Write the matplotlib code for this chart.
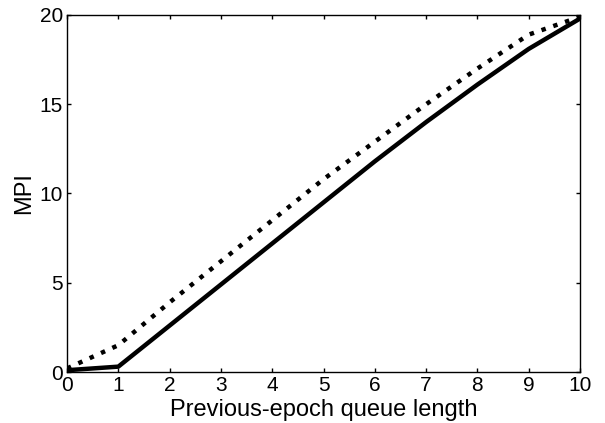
import matplotlib
matplotlib.use('Agg')
import matplotlib.pyplot as plt

plt.rcParams['font.family'] = ['Liberation Sans', 'DejaVu Sans']

queue_len = [0, 1, 2, 3, 4, 5, 6, 7, 8, 9, 10]
mpi_solid = [0.1, 0.3, 2.6, 4.9, 7.2, 9.5, 11.8, 14.0, 16.1, 18.1, 19.8]
mpi_dotted = [0.2, 1.5, 3.9, 6.2, 8.5, 10.8, 12.9, 15.0, 17.0, 18.9, 19.9]

fig = plt.figure(figsize=(6.05, 4.23), dpi=100)
ax = fig.add_axes([67 / 605, 1 - 372 / 423, (580 - 67) / 605, (372 - 15) / 423])

ax.plot(queue_len, mpi_solid, color='black', linewidth=3.2, solid_capstyle='butt')
ax.plot(queue_len, mpi_dotted, color='black', linewidth=3.2, linestyle=(0, (1, 1.8)),
        dash_capstyle='butt')

ax.set_xlim(0, 10)
ax.set_ylim(0, 20)
ax.set_xticks(range(0, 11))
ax.set_yticks([0, 5, 10, 15, 20])
ax.tick_params(direction='in', top=True, right=True, labelsize=15, length=3, width=1, pad=3)
for s in ax.spines.values():
    s.set_linewidth(1)

ax.set_xlabel('Previous-epoch queue length', fontsize=17, labelpad=3)
ax.set_ylabel('MPI', fontsize=17, labelpad=3)

fig.savefig('out.png', dpi=100)
